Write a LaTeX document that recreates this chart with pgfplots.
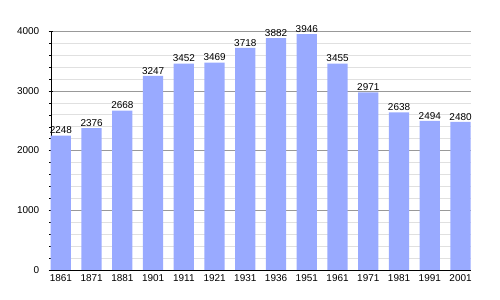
\documentclass[border=0pt]{standalone}
\usepackage{fontspec}
\setmainfont{Liberation Sans}
\usepackage{pgfplots}
\pgfplotsset{compat=1.18}
\definecolor{barblue}{RGB}{153,170,255}
\begin{document}
\begin{tikzpicture}
\path[use as bounding box] (-50.7bp,-30bp) rectangle (449.3bp,270bp);
\begin{axis}[
  at={(0,0)}, anchor=south west,
  scale only axis, width=420bp, height=239bp,
  xmin=-0.33, xmax=13.33, ymin=0, ymax=4000,
  ybar, bar width=0.66,
  xtick={0,...,13},
  xticklabels={1861,1871,1881,1901,1911,1921,1931,1936,1951,1961,1971,1981,1991,2001},
  x tick style={draw=none},
  ytick={0,1000,2000,3000,4000},
  minor y tick num=4,
  tick align=outside,
  major tick length=4bp, minor tick length=3bp,
  y tick style={black},
  axis x line=bottom, axis y line=left,
  axis line style={-,black},
  ymajorgrids, yminorgrids,
  major grid style={draw=black!40},
  minor grid style={draw=black!12},
  /pgf/number format/1000 sep={},
  /pgf/number format/assume math mode=true,
  tick label style={font=\fontsize{10}{11}\selectfont},
  xticklabel style={yshift=1bp},
  yticklabel style={xshift=-6bp},
  nodes near coords,
  every node near coord/.append style={font=\fontsize{10}{11}\selectfont, inner sep=0pt, anchor=south, yshift=1.5bp, black},
]
\addplot[fill=barblue, draw=none] coordinates {
(0,2248) (1,2376) (2,2668) (3,3247) (4,3452) (5,3469) (6,3718)
(7,3882) (8,3946) (9,3455) (10,2971) (11,2638) (12,2494) (13,2480)};
\end{axis}
\end{tikzpicture}
\end{document}
